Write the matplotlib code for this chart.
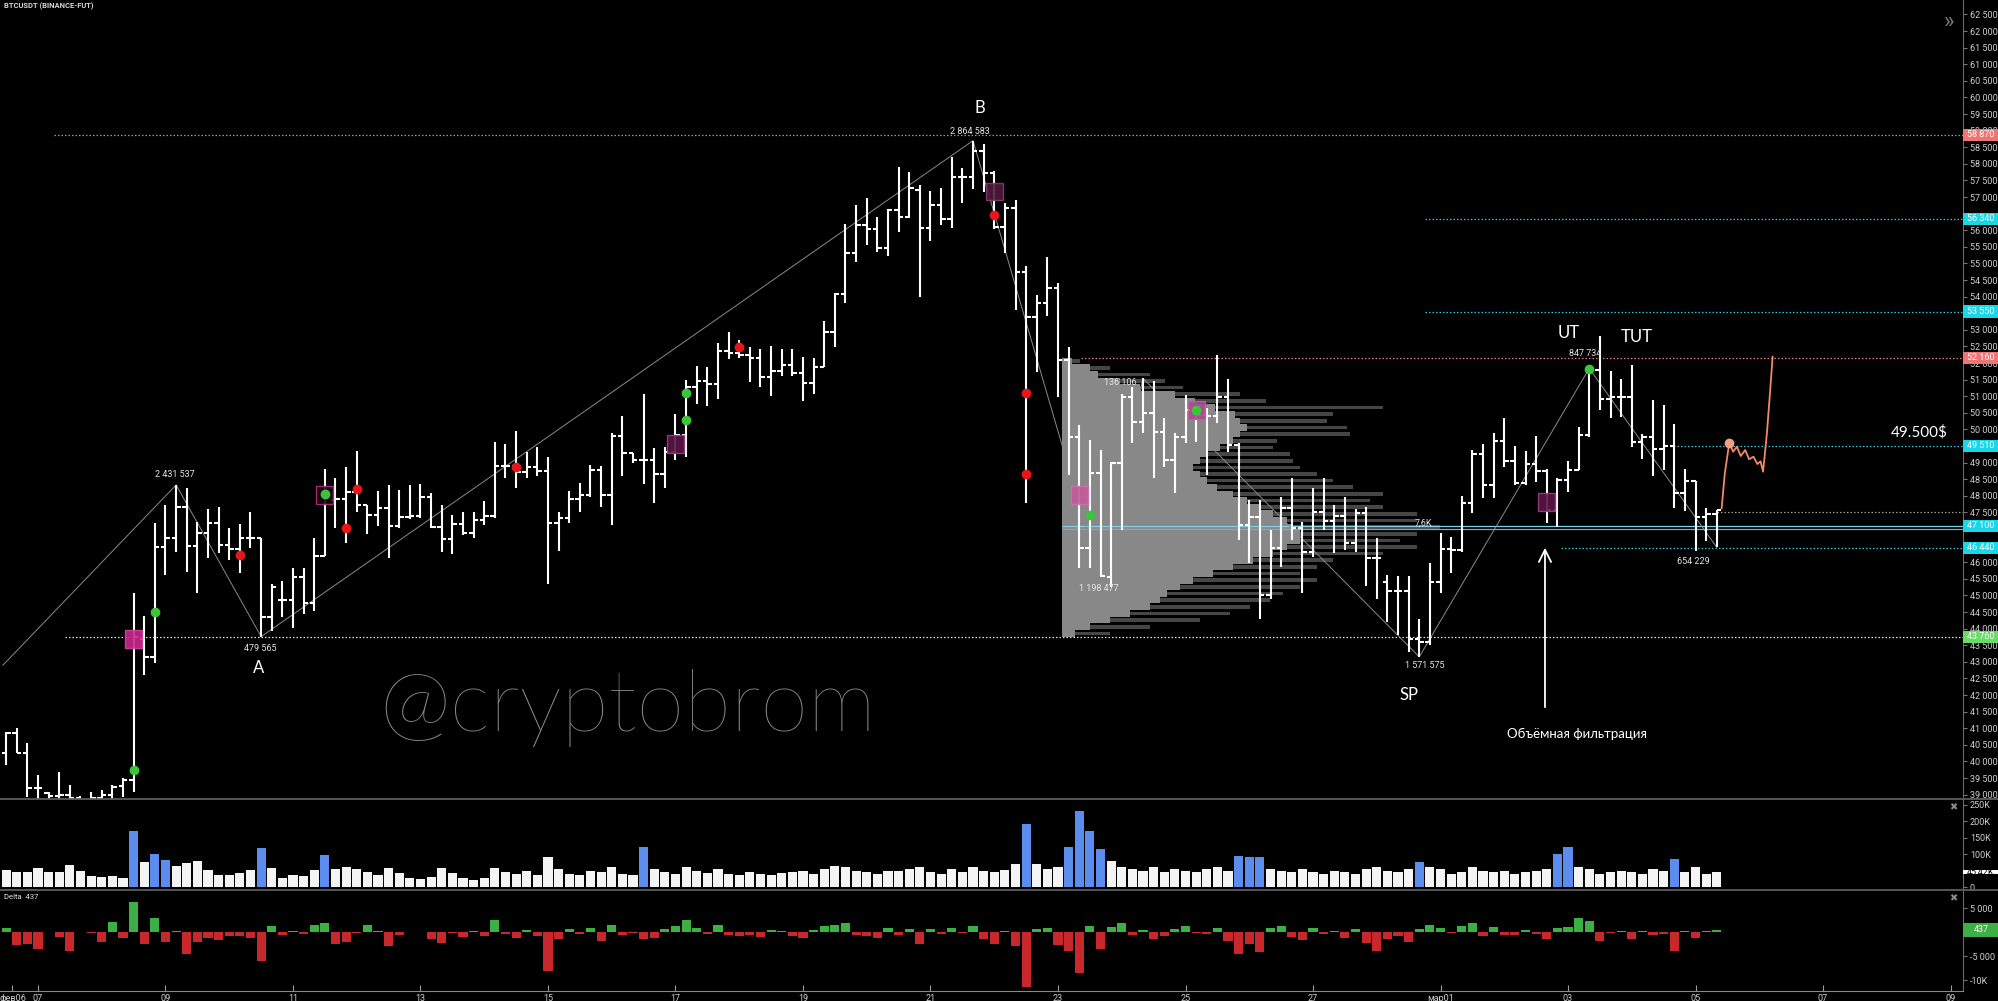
import matplotlib
matplotlib.use("Agg")
import matplotlib.pyplot as plt
import numpy as np
from matplotlib.patches import Rectangle
from matplotlib.transforms import blended_transform_factory
from matplotlib.lines import Line2D

plt.rcParams['font.family'] = ['Roboto', 'DejaVu Sans']

# ---------------- data (4h bars, BTCUSDT) ----------------
first_day = 6.5          # Feb 6, 12:00 (days counted from Feb 0)
bars_per_day = 6

opens = [
40250, 40850, 40250, 39200, 39050, 38950, 39000, 38900, 38600, 38900,
39000, 39250, 39450, 43700, 43150, 46470, 46740, 47660, 46490, 46890,
47190, 46520, 46400, 46730, 46730, 44360, 44860, 44860, 45560, 44780,
46190, 47880, 47900, 48130, 47720, 47420, 47630, 47090, 47370, 47400,
47980, 47070, 46690, 47150, 46870, 47270, 47400, 48900, 48900, 48730,
48860, 48760, 47190, 47320, 47900, 48030, 48780, 48030, 49800, 49300,
49080, 49080, 48650, 49330, 49830, 51290, 51470, 51370, 52370, 52300,
52240, 52140, 51590, 51770, 51940, 51710, 51410, 51890, 52950, 54080,
55310, 56160, 56030, 55460, 56610, 56390, 57210, 56060, 56760, 56330,
57600, 57600, 58400, 57740, 56110, 56660, 54750, 53400, 53800, 54250,
52090, 49760, 46420, 48680, 45550, 48980, 50990, 50240, 50490, 49930,
49080, 49780, 50590, 50440, 50410, 50970, 49530, 47120, 47370, 45020,
46420, 47650, 47020, 46320, 47520, 47250, 47390, 46590, 47490, 46120,
45400, 45150, 45150, 43700, 43600, 45400, 46390, 46370, 47800, 49260,
48330, 49660, 49060, 48400, 48960, 48760, 47560, 48480, 48780, 49830,
51790, 50910, 50970, 50970, 49630, 49780, 49400, 49500, 48080, 48460,
47350, 47450]

highs = [
40900, 41000, 40550, 39600, 39090, 39690, 39290, 38950, 39090, 39140,
39290, 39500, 45085, 44380, 47190, 47720, 48330, 48240, 47220, 47600,
47660, 47030, 47150, 47520, 46730, 45350, 45440, 45830, 45830, 46730,
48810, 48540, 48880, 49360, 47720, 48150, 48330, 48180, 48340, 48350,
48100, 47720, 47420, 47520, 47520, 47860, 49630, 49560, 49960, 49330,
49480, 49160, 47500, 48160, 48380, 48930, 48900, 49900, 50410, 49300,
51070, 49430, 49480, 50470, 51490, 51910, 51880, 52600, 52930, 52700,
52490, 52420, 52520, 52420, 52420, 52170, 52140, 53270, 54110, 56180,
56760, 56960, 56390, 56630, 57920, 57750, 57360, 57190, 57260, 58220,
57870, 58700, 58600, 57800, 56810, 56910, 54930, 54050, 55190, 54400,
52490, 50140, 49680, 49380, 49030, 51070, 51270, 51540, 51470, 50340,
49880, 51040, 50690, 50640, 52240, 51510, 49580, 47880, 47880, 46970,
47980, 48530, 47220, 48230, 48530, 47730, 47960, 47600, 47660, 46720,
45620, 45590, 45590, 44300, 45970, 46870, 46750, 48000, 49380, 49560,
49900, 50340, 49500, 49360, 49800, 48800, 48530, 49060, 50070, 51840,
52820, 51770, 51510, 51940, 49860, 50890, 50740, 50170, 48800, 48460,
47630, 47560]

lows = [
39900, 40250, 38930, 38800, 38700, 38700, 38700, 38400, 38500, 38600,
38700, 38930, 39090, 42600, 42970, 45620, 46320, 45720, 45080, 46130,
46280, 46070, 45690, 46430, 43760, 43940, 44360, 44020, 44440, 44540,
46190, 47030, 46580, 47520, 46860, 47090, 46130, 47030, 47300, 47330,
47040, 46320, 46250, 46820, 46730, 47120, 47320, 48530, 48250, 48530,
48600, 45350, 46350, 47170, 47520, 47980, 47680, 47120, 48610, 49000,
48350, 47800, 48250, 49080, 49180, 50770, 50720, 50920, 52110, 52140,
51420, 51290, 51020, 51610, 51610, 50870, 51070, 51890, 52480, 53800,
55030, 55560, 55360, 55230, 55960, 56360, 54000, 55690, 56160, 56060,
56830, 57230, 57160, 56030, 55330, 53600, 47780, 51740, 53420, 50970,
48630, 45820, 45820, 45570, 45270, 46970, 49580, 49880, 48530, 48880,
48080, 49580, 49630, 48630, 50190, 49330, 46670, 45970, 44300, 44900,
45870, 46670, 45070, 46170, 46970, 46270, 46370, 46320, 45300, 44900,
44200, 43800, 43300, 43150, 43500, 45070, 45670, 46320, 47470, 47930,
47930, 48880, 48330, 48330, 48430, 47170, 47070, 48130, 48780, 49780,
50590, 50340, 50370, 49480, 49100, 48600, 48780, 47630, 47530, 46350,
46650, 46450]

closes = [
40850, 40250, 39200, 39200, 38950, 39000, 38900, 38600, 38900, 39000,
39240, 39450, 43760, 43150, 46470, 46740, 47660, 46490, 46890, 47190,
46520, 46400, 46730, 46730, 44360, 45250, 44860, 45560, 44780, 46190,
48100, 47900, 48130, 47720, 47420, 47630, 47090, 47370, 47400, 47980,
47070, 46690, 47150, 46870, 47270, 47400, 48900, 48900, 48730, 48860,
48760, 47190, 47320, 47900, 48030, 48780, 48030, 49800, 49300, 49080,
49080, 48650, 49330, 49830, 51290, 51470, 51370, 52370, 52300, 52240,
52140, 51590, 51770, 51940, 51710, 51410, 51890, 52950, 54080, 55310,
56160, 56030, 55460, 56610, 56390, 57260, 56060, 56760, 56330, 57600,
57600, 58400, 57740, 56110, 56660, 54750, 53400, 53800, 54250, 52090,
49760, 46420, 48680, 45600, 48980, 50990, 50240, 50490, 49930, 49080,
49780, 50590, 50440, 50410, 50970, 49530, 47120, 47370, 45020, 46420,
47650, 47020, 46320, 47520, 47250, 47390, 46590, 47490, 46120, 46120,
45150, 45150, 43700, 43600, 45400, 46390, 46370, 47800, 49260, 48330,
49660, 49060, 48400, 48960, 48760, 47560, 48480, 48780, 49830, 51790,
50910, 50970, 50970, 49630, 49780, 49400, 49500, 48080, 48460, 47350,
47450, 47560]

volume_k = [
52, 47, 45, 58, 45, 45, 68, 48, 33, 30,
33, 28, 171, 75, 101, 81, 63, 73, 78, 53,
35, 35, 43, 51, 118, 58, 28, 36, 33, 51,
98, 55, 62, 54, 45, 35, 57, 43, 26, 23,
31, 57, 43, 26, 21, 28, 57, 45, 40, 50,
35, 90, 55, 40, 35, 48, 45, 60, 40, 38,
120, 55, 45, 40, 60, 48, 42, 55, 40, 35,
45, 40, 38, 42, 45, 50, 40, 55, 65, 60,
50, 45, 40, 48, 50, 55, 60, 45, 40, 55,
45, 60, 50, 45, 52, 70, 190, 70, 55, 60,
120, 230, 170, 115, 80, 60, 55, 50, 60, 45,
55, 50, 45, 55, 60, 50, 95, 90, 90, 55,
50, 45, 55, 45, 40, 50, 45, 40, 55, 60,
50, 45, 55, 75, 60, 55, 40, 45, 60, 50,
45, 50, 40, 45, 50, 55, 100, 120, 60, 55,
40, 45, 50, 45, 40, 55, 50, 85, 45, 60,
40, 45.42]
blue_volume_bars = [12, 14, 15, 24, 30, 60, 96, 100, 101, 102, 103, 116, 117, 118,
                    133, 146, 147, 157]

delta = [
760, -2700, -2500, -3600, -50, -1000, -4000, -100, -150, -2000,
2000, -1300, 6300, -2400, 2900, -2000, 300, -4500, -2150, -1200,
-1650, -760, -760, -1300, -6000, 1250, -700, 140, -500, 1400,
1800, -2500, -2150, -300, 1450, 300, -2850, -550, 70, 70,
-1450, -2350, -280, -970, 140, -760, 2570, -500, -1200, 400,
-800, -8200, -1500, 600, -400, 900, -1800, 1500, -600, -300,
-1500, -1200, 600, 1200, 2600, 800, -400, 1500, -600, -900,
-700, -1100, 400, 300, -800, -1200, 500, 1200, 1500, 1800,
-600, -900, -1300, 800, -700, 600, -2500, 700, -500, 900,
-300, 1200, -1400, -2500, 300, -3000, -11500, 600, 800, -2800,
-4000, -8500, 1200, -3500, 1000, 1800, -700, 400, -1500, -900,
700, 1300, -300, -500, 900, -1800, -4500, -2500, -4200, 800,
1200, -1000, -1600, 900, -500, 300, -1300, 700, -2200, -4000,
-1500, -800, -2000, 600, 1500, 900, -300, 1200, 1800, -900,
1100, -600, -700, 500, -400, -1500, 900, 1000, 2900, 2200,
-1800, -200, 300, -1500, 200, -600, -400, -4000, 300, -1200,
200, 437]

# volume profile (fixed range), rows bottom -> top, values in K
vp_low_price = 43760
vp_row_step = 200
vp_start_day = 23.06
vp_part_k = [0.26, 0.56, 0.97, 1.37, 1.77, 1.97, 2.11, 2.37, 2.64, 3.04, 3.44, 3.84,
             4.25, 4.53, 4.79, 4.79, 4.65, 4.53, 4.25, 3.98, 3.72, 3.44, 3.12, 2.92,
             2.78, 2.64, 2.78, 2.92, 3.18, 3.44, 3.58, 3.72, 3.58, 3.48, 3.08, 2.68,
             2.27, 1.57, 1.17, 0.72, 0.56, 0.20]
vp_total_k = [0.97, 1.77, 2.78, 3.38, 3.78, 4.19, 4.45, 4.79, 5.13, 4.79, 5.13, 5.45,
              6.46, 7.14, 6.80, 7.14, 7.60, 7.14, 7.14, 6.46, 6.20, 6.46, 5.86, 5.45,
              5.13, 4.79, 4.65, 4.59, 4.25, 4.33, 5.79, 5.73, 5.33, 5.45, 6.46, 4.10,
              3.58, 2.43, 2.07, 1.77, 0.97, 0.36]

# markers
green_dot_bars = [12, 14, 30, 64, 64, 102, 112, 149]
green_dot_prices = [39745, 44512, 48056, 51100, 50286, 47424, 50587, 51812]
red_dot_bars = [22, 32, 33, 48, 69, 93, 96, 96]
red_dot_prices = [46220, 47033, 48208, 48860, 52494, 56460, 51089, 48650]
box_bars = [12, 30, 63, 93, 101, 112, 145]
box_prices = [43689, 48027, 49550, 57168, 48027, 50587, 47825]
box_faces = ['#c8268c', '#1a0712', '#5a1546', '#4d1a3a', '#c45a9c', '#b04890', '#5a1546']
box_edges = ['#d8409c', '#b03080', '#a03c80', '#8a3a70', '#d070b0', '#c060a0', '#a03c80']

# zigzag pivots (bar index, price)
zz_bars = [-0.3, 16, 24, 91, 103, 107, 133, 149, 161]
zz_prices = [42900, 48330, 43760, 58700, 45570, 51540, 43150, 51840, 46450]

# horizontal levels: price, start day, colour, style
level_prices = [58870, 56340, 53550, 52160, 49510, 47500, 46440, 43760, 47100]
level_start = [7.25, 28.76, 28.76, 23.36, 32.60, 33.34, 30.89, 7.42, 23.06]
level_colors = ['#e07a7a', '#27c9d9', '#27c9d9', '#e07a7a', '#27c9d9', '#9a9a9a',
                '#27c9d9', '#d6e6d6', '#7fd3e6']
level_dotted = [True, True, True, True, True, True, True, True, False]
axis_label_prices = [58870, 56340, 53550, 52160, 49510, 47100, 46440, 43760]
axis_label_colors = ['#f07474', '#19d6e8', '#19d6e8', '#f07474', '#19d6e8', '#19d6e8',
                     '#19d6e8', '#66dd66']

# hand-drawn forecast (day, price)
fc_days = [33.41, 33.46, 33.53, 33.59, 33.65, 33.71, 33.78, 33.84, 33.91, 33.97,
           34.02, 34.06, 34.12, 34.16, 34.21]
fc_prices = [47626, 48680, 49602, 49331, 49481, 49201, 49382, 49102, 49180, 48960,
             49041, 48729, 49885, 50888, 52192]

price_ticks = list(range(39000, 62501, 500))
hidden_price_ticks = [56500, 47000]
date_ticks = [6.6, 7, 9, 11, 13, 15, 17, 19, 21, 23, 25, 27, 29, 31, 33, 35, 37]
date_labels = ['фев06', '07', '09', '11', '13', '15', '17', '19', '21', '23', '25', '27',
               'мар01', '03', '05', '07', '09']

# ---------------- figure ----------------
W, H = 1999.0, 1001.0
fig = plt.figure(figsize=(W / 100, H / 100), dpi=100, facecolor='black')


def rect(top, bot):
    return [0, 1 - bot / H, 1963 / W, (bot - top) / H]


ax = fig.add_axes(rect(0, 799))
axv = fig.add_axes(rect(799, 890), sharex=ax)
axd = fig.add_axes(rect(890, 991), sharex=ax)
for a in (ax, axv, axd):
    a.set_facecolor('black')
    for s in ('top', 'left', 'bottom'):
        a.spines[s].set_visible(False)
    a.spines['right'].set_color('#6a6a6a')
    a.yaxis.tick_right()
    a.tick_params(axis='y', colors='#777777', labelcolor='#cfcfcf', labelsize=6.5,
                  length=3, width=0.8, pad=2)
    a.tick_params(axis='x', bottom=False, labelbottom=False)

ax.set_xlim(6.404, 37.196)
ax.set_ylim(38870, 62936)
axv.set_ylim(-9, 267)
axd.set_ylim(-12290, 8750)


def fmt(v):
    return f"{int(v):,}".replace(',', ' ')


ax.set_yticks(price_ticks)
ax.set_yticklabels(['' if v in hidden_price_ticks else fmt(v) for v in price_ticks])
axv.set_yticks([0, 100, 150, 200, 250])
axv.set_yticklabels(['0', '100K', '150K', '200K', '250K'])
axd.set_yticks([5000, -5000, -10000])
axd.set_yticklabels(['5 000', '-5 000', '-10K'])

axd.spines['bottom'].set_visible(True)
axd.spines['bottom'].set_color('#8a8a8a')
axd.set_xticks(date_ticks)
axd.set_xticklabels(date_labels)
axd.tick_params(axis='x', bottom=True, labelbottom=True, direction='in', length=4,
                colors='#9a9a9a', labelcolor='#cfcfcf', labelsize=6.5, pad=2)

n = len(opens)
t = first_day + np.arange(n) / bars_per_day
tick = 0.07

# volume profile
rows = vp_low_price + vp_row_step * (np.arange(len(vp_part_k)) + 0.5)
k2d = 0.78
ax.barh(rows, np.array(vp_total_k) * k2d, left=vp_start_day, height=vp_row_step * 0.55,
        color='#464646', zorder=1)
ax.barh(rows, np.array(vp_part_k) * k2d, left=vp_start_day, height=vp_row_step,
        color='#888888', zorder=1.2)

# levels
xr = 37.196
for p, s, c, d in zip(level_prices, level_start, level_colors, level_dotted):
    ax.hlines(p, s, xr, colors=c, lw=0.9, linestyles=(0, (1.2, 1.6)) if d else '-', zorder=2)
ax.hlines(46990, vp_start_day, xr, colors='#8fa0c8', lw=0.9, zorder=2)

# zigzag
ax.plot(first_day + np.array(zz_bars) / bars_per_day, zz_prices, color='#8a8a8a', lw=0.7,
        zorder=2.2)

# OHLC bars
ax.vlines(t, lows, highs, colors='white', lw=1.5, zorder=3)
ax.hlines(opens, t - tick, t, colors='white', lw=1.5, zorder=3)
ax.hlines(closes, t, t + tick, colors='white', lw=1.5, zorder=3)

# boxes
for b, p, fc, ec in zip(box_bars, box_prices, box_faces, box_edges):
    tb = first_day + b / bars_per_day
    ax.add_patch(Rectangle((tb - 0.135, p - 270), 0.27, 540, facecolor=fc, edgecolor=ec,
                           lw=1.0, alpha=0.9, zorder=3.5))

# dots
ax.plot(first_day + np.array(green_dot_bars) / bars_per_day, green_dot_prices, 'o',
        color='#3cc43c', ms=6, zorder=4)
ax.plot(first_day + np.array(red_dot_bars) / bars_per_day, red_dot_prices, 'o',
        color='#e8161b', ms=6, zorder=4)

# forecast
ax.plot(fc_days, fc_prices, color='#f08a68', lw=1.3, zorder=4)
ax.plot(fc_days[2], fc_prices[2], 'o', color='#f5a07e', ms=6, zorder=4.5)

# annotations
lab = dict(color='white', fontsize=12, family=['Lato', 'DejaVu Sans'], ha='center', va='center')
small = dict(color='#e6e6e6', fontsize=6.5, ha='center', va='center')
ax.text(21.776, 59683, 'B', **lab)
ax.text(10.467, 42816, 'A', **lab)
ax.text(28.506, 42002, 'SP', **lab)
ax.text(31.016, 52906, 'UT', **lab)
ax.text(32.082, 52786, 'TUT', **lab)
ax.text(21.62, 58990, '2 864 583', **small)
ax.text(9.149, 48659, '2 431 537', **small)
ax.text(10.482, 43418, '479 565', **small)
ax.text(23.643, 45196, '1 198 477', **small)
ax.text(23.973, 51400, '136 106', **small)
ax.text(28.725, 47183, '7,6K', **small)
ax.text(28.757, 42906, '1 571 575', **small)
ax.text(31.267, 52274, '847 734', **small)
ax.text(32.961, 46009, '654 229', **small)
ax.text(31.141, 40828, 'Объёмная фильтрация', color='white', fontsize=9.5,
        family=['Lato', 'DejaVu Sans'], ha='center', va='center')
ax.text(36.961, 49924, '49.500$', color='white', fontsize=11, family=['Lato', 'DejaVu Sans'],
        ha='right', va='center')
ax.annotate('', xy=(30.639, 46521), xytext=(30.639, 41551),
            arrowprops=dict(arrowstyle='->', color='white', lw=1.3, mutation_scale=22))
ax.text(12.349, 40933, '@cryptobrom', color='#8c8c8c', fontsize=62,
        family=['Lato', 'DejaVu Sans'], fontweight='light', ha='left', va='baseline', zorder=0.5)

# axis price labels
tr = blended_transform_factory(ax.transAxes, ax.transData)
for p, c in zip(axis_label_prices, axis_label_colors):
    ax.add_patch(Rectangle((1.0, p - 185), 0.0184, 370, transform=tr, facecolor=c,
                           edgecolor='none', clip_on=False, zorder=6))
    ax.text(1.0092, p, fmt(p), transform=tr, color='white', fontsize=6.5, ha='center',
            va='center', clip_on=False, zorder=7)

# volume
vcols = ['#5b8def' if i in blue_volume_bars else '#f4f4f4' for i in range(n)]
axv.bar(t, volume_k, width=0.142, color=vcols, zorder=3)
trv = blended_transform_factory(axv.transAxes, axv.transData)
axv.add_patch(Rectangle((1.0, volume_k[-1] - 7), 0.0184, 14, transform=trv,
                        facecolor='white', edgecolor='none', clip_on=False, zorder=6))
axv.text(1.0092, volume_k[-1], '45,42K', transform=trv, color='black', fontsize=6.5,
         ha='center', va='center', clip_on=False, zorder=7)

# delta
dcols = ['#3cb043' if d >= 0 else '#c8282b' for d in delta]
axd.bar(t, delta, width=0.142, color=dcols, zorder=3)
trd = blended_transform_factory(axd.transAxes, axd.transData)
axd.add_patch(Rectangle((1.0, delta[-1] - 1400), 0.0184, 2800, transform=trd,
                        facecolor='#3cb043', edgecolor='none', clip_on=False, zorder=6))
axd.text(1.0092, delta[-1], str(delta[-1]), transform=trd, color='white', fontsize=6.5,
         ha='center', va='center', clip_on=False, zorder=7)

# chrome
for yy in (799, 890):
    fig.add_artist(Line2D([0, 1], [1 - yy / H] * 2, transform=fig.transFigure,
                          color='#5e5e5e', lw=1.3))
fig.text(4 / W, 1 - 6 / H, 'BTCUSDT (BINANCE-FUT)', color='#d6d6d6', fontsize=5.5,
         va='center', ha='left', fontweight='bold')
fig.text(4 / W, 1 - 897 / H, 'Delta  437', color='#e6e6e6', fontsize=5.5, va='center',
         ha='left')
fig.text(1949 / W, 1 - 22 / H, '»', color='#7a7a7a', fontsize=16, va='center', ha='center')
fig.text(1953 / W, 1 - 807 / H, '✖', color='#8a8a8a', fontsize=7, va='center', ha='center',
         family='DejaVu Sans')
fig.text(1953 / W, 1 - 898 / H, '✖', color='#8a8a8a', fontsize=7, va='center', ha='center',
         family='DejaVu Sans')

fig.savefig('out.png', dpi=100, facecolor='black')
